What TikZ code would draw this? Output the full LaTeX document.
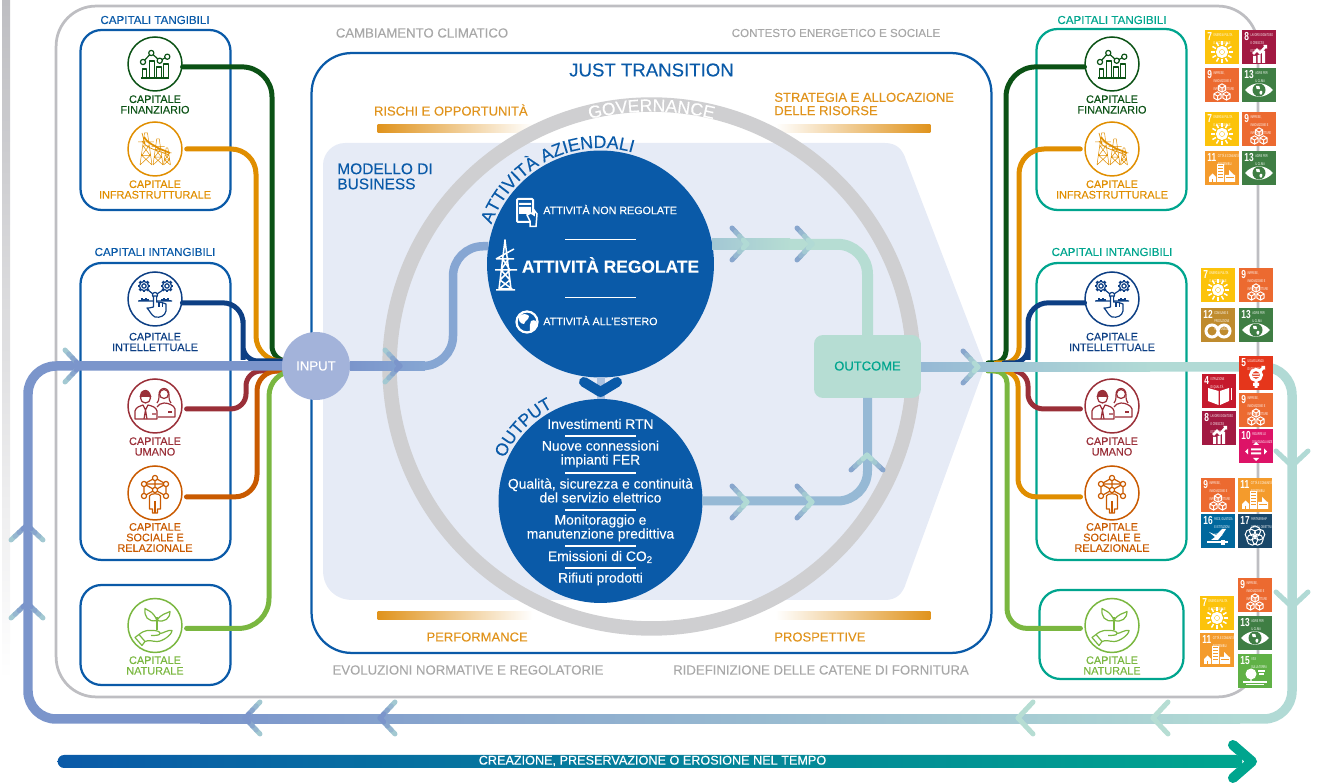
\documentclass[tikz,border=0pt]{standalone}
\usepackage{fontspec}
\setmainfont{Liberation Sans}[FakeBold=0.18]
\newfontfamily\sdgfont{Liberation Sans}
\usetikzlibrary{calc,decorations.text}
\definecolor{capblue}{HTML}{0A5AA8}
\definecolor{capteal}{HTML}{00A58E}
\definecolor{capgreen}{HTML}{0B5215}
\definecolor{capamber}{HTML}{E08E00}
\definecolor{capnavy}{HTML}{0D3F84}
\definecolor{capred}{HTML}{9A2F38}
\definecolor{caprust}{HTML}{C95A00}
\definecolor{caplime}{HTML}{7AB740}
\definecolor{framegray}{HTML}{BEBEC2}
\definecolor{ringgray}{HTML}{CFCFD1}
\definecolor{textgray}{HTML}{A8A8A8}
\definecolor{modelbg}{HTML}{E6EBF6}
\definecolor{pipeblue}{HTML}{7B95CB}
\definecolor{pipemid}{HTML}{86A6D3}
\definecolor{pipesky}{HTML}{96B9D5}
\definecolor{pipeaqua}{HTML}{B1DAD5}
\definecolor{pipemint}{HTML}{B6DDD3}
\definecolor{inputfill}{HTML}{A3B3DA}
\definecolor{labelamber}{HTML}{E0931C}

% SDG tiles: number, colour, caption, icon
\newcommand{\sdgdef}[4]{\definecolor{sdg#1}{HTML}{#2}%
  \expandafter\def\csname sdgtext#1\endcsname{#3}%
  \expandafter\def\csname sdgicon#1\endcsname{#4}}
\newcommand{\sdgcube}[2]{\begin{scope}[shift={(#1,#2)}, scale=.82]
  \draw[white, line width=.02cm, line join=round] (0,5)--(4.5,2.5)--(4.5,-2.5)--(0,-5)--(-4.5,-2.5)--(-4.5,2.5)--cycle
    (-4.5,2.5)--(0,0)--(4.5,2.5) (0,0)--(0,-5);
\end{scope}}
\sdgdef{4}{C5192D}{ISTRUZIONE\\DI QUALIT\`A}{
  \fill[white] (16.5,-17)--(16.5,-31)--(6,-27)--(6,-14)--cycle (18,-17)--(18,-31)--(27,-27)--(27,-14)--cycle;
  \fill[white] (28.5,-14) rectangle (30,-26);}
\sdgdef{5}{E5361B}{UGUAGLIANZA\\DI GENERE}{
  \draw[white, line width=.06cm] (17,-19) circle[radius=5.5] (21,-15)--(25,-11) (17,-25)--(17,-32) (14,-28.5)--(20,-28.5);
  \fill[white] (22,-10)--(26,-10)--(26,-14)--cycle (14,-17.5) rectangle (20,-18.7) (14,-20) rectangle (20,-21.2);}
\sdgdef{7}{FCC30B}{ENERGIA PULITA\\E ACCESSIBILE}{
  \draw[white, line width=.06cm] (17,-22) circle[radius=4.5];
  \fill[white] (17,-22) circle[radius=2.2];
  \foreach \a in {0,30,...,330} {\draw[white, line width=.03cm] ($(17,-22)+(\a:7)$) -- ($(17,-22)+(\a:11)$);}}
\sdgdef{8}{A21942}{LAVORO DIGNITOSO\\E CRESCITA\\ECONOMICA}{
  \fill[white] (11,-33) rectangle (14,-26) (15.5,-33) rectangle (18.5,-25) (20,-33) rectangle (23,-21);
  \draw[white, line width=.05cm] (11,-24)--(15,-20)--(18,-23)--(24,-16);
  \fill[white] (21,-15)--(25,-15)--(25,-19)--cycle;}
\sdgdef{9}{EC6A30}{IMPRESE,\\INNOVAZIONE E\\INFRASTRUTTURE}{
  \sdgcube{17}{-20}\sdgcube{12.5}{-28}\sdgcube{21.5}{-28}}
\sdgdef{10}{DD1367}{RIDURRE LE\\DISUGUAGLIANZE}{
  \fill[white] (12,-19.5) rectangle (22,-21.5) (12,-23.5) rectangle (22,-25.5)
    (14,-16)--(20,-16)--(17,-13)--cycle (14,-29)--(20,-29)--(17,-32)--cycle
    (9,-19.5)--(9,-25.5)--(6,-22.5)--cycle (25,-19.5)--(25,-25.5)--(28,-22.5)--cycle;}
\sdgdef{11}{F49B2C}{CITT\`A E COMUNIT\`A\\SOSTENIBILI}{
  \fill[white] (12,-31) rectangle (19,-13) (20,-31) rectangle (30,-24) (24,-24)--(24,-19)--(29,-24)--cycle
    (4,-31) rectangle (11,-26) (4,-26)--(7.5,-22.5)--(11,-26)--cycle;
  \foreach \y in {-15,-18,-21,-24,-27} {\draw[sdg11, line width=.02cm] (13,\y)--(18,\y);}
  \draw[sdg11, line width=.02cm] (21,-27)--(29,-27) (7.5,-28)--(7.5,-31);}
\sdgdef{12}{BF8B2E}{CONSUMO E\\PRODUZIONE\\RESPONSABILI}{
  \draw[white, line width=.06cm] (11,-23) circle[radius=6] (23,-23) circle[radius=6];}
\sdgdef{13}{3F7E44}{AGIRE PER\\IL CLIMA}{
  \fill[white] (3,-22) .. controls (11,-13) and (23,-13) .. (31,-22) .. controls (23,-31) and (11,-31) .. cycle;
  \fill[sdg13] (17,-22) circle[radius=6.5];
  \fill[white] (14,-18) .. controls (17,-17) and (19,-19) .. (18,-21) .. controls (15,-22) and (13,-20) .. cycle
    (18,-23) .. controls (21,-22) and (21,-25) .. (19,-27) .. controls (17,-26) and (17,-24) .. cycle;}
\sdgdef{15}{60B146}{VITA\\SULLA TERRA}{
  \fill[white] (13,-20) circle[radius=5.5] (12.3,-24) rectangle (13.7,-28);
  \draw[white, line width=.03cm] (5,-28)--(29,-28) (8,-30.5)--(26,-30.5) (20,-17)--(27,-17) (21,-20)--(26,-20);}
\sdgdef{16}{00689D}{PACE, GIUSTIZIA\\E ISTITUZIONI\\SOLIDE}{
  \fill[white] (8,-18)--(15,-21)--(21,-15)--(25,-15)--(21,-21)--(17,-26)--(10,-26)--(14,-23)--cycle;
  \draw[white, line width=.05cm] (6,-28)--(27,-28);
  \fill[white] (20,-26) rectangle (24,-31);}
\sdgdef{17}{19486A}{PARTNERSHIP\\PER GLI OBIETTIVI}{
  \foreach \a in {90,162,234,306,18} {\draw[white, line width=.02cm] ($(17,-22)+(\a:4.5)$) circle[radius=5.5];}}

\newcommand{\sdgtile}[3]{%
  \node[sdgbox, fill=sdg#1] (tile#1x#2) at (#2,-#3) {};
  \begin{scope}[shift={(#2,-#3)}]
    \node[sdgnum] (num#1x#2) at (2,-2) {\scalebox{.72}[1]{#1}};
    \node[sdgcap] (cap#1x#2) at (num#1x#2.north east) {\scalebox{.56}[1]{\shortstack[l]{\csname sdgtext#1\endcsname}}};
    \csname sdgicon#1\endcsname
  \end{scope}}

% two-armed chevron: x, y, angle, tip colour, tail colour
\newcommand{\chev}[5]{\begin{scope}[shift={(#1,-#2)},rotate=#3]
  \foreach \s in {75,50,25,0} {
    \draw[chevline, color=#5!\s!#4] ({-.15*(\s+25)},{.16*(\s+25)}) -- ({-.15*\s},{.16*\s});
    \draw[chevline, color=#5!\s!#4] ({-.15*(\s+25)},{-.16*(\s+25)}) -- ({-.15*\s},{-.16*\s});
  }
\end{scope}}

% capital icons
\newcommand{\iconfin}{
  \draw[ico] (-14,-14)--(14,-14);
  \foreach \bx/\bt in {-10.5/-5,-3/3,4/-3,11/0} {\draw[ico] (\bx-2.3,-14) rectangle (\bx+2.3,\bt);}
  \draw[ico] (-12,2)--(-3.7,11)--(4.7,3.3)--(12.3,7.3);
  \foreach \px/\py in {-12/2,-3.7/11,4.7/3.3,12.3/7.3} {\draw[ico, fill=white] (\px,\py) circle[radius=2.6];}}
\newcommand{\tower}[4]{% x, base, height, half width
  \draw[line width=.01cm, line join=round] (#1-#4,#2)--(#1-.25*#4,#2+#3)--(#1+.25*#4,#2+#3)--(#1+#4,#2)
    (#1-#4,#2)--(#1+.7*#4,#2+.3*#3)--(#1-.7*#4,#2+.3*#3)--(#1+#4,#2)
    (#1+.7*#4,#2+.3*#3)--(#1-.5*#4,#2+.6*#3)--(#1+.5*#4,#2+.6*#3)--(#1-.7*#4,#2+.3*#3)
    (#1-1.3*#4,#2+.72*#3)--(#1+1.3*#4,#2+.72*#3);}
\newcommand{\iconpylon}{
  \tower{-9}{-16}{32}{6}\tower{3}{-16}{26}{5}\tower{12}{-16}{17}{3.5}
  \draw[line width=.035cm] (-11,12) .. controls (-6,4) and (0,4) .. (3,1) .. controls (7,-1) and (11,-2) .. (15,-4);
  \draw[line width=.014cm] (-13,16)--(-10,5) (-13,8) .. controls (-8,0) and (2,-1) .. (14,-6);}
\newcommand{\icongear}[2]{\begin{scope}[shift={(#1,#2)}]
  \draw[ico] (0,0) circle[radius=2.2];
  \draw[ico] (0,0) circle[radius=4.6];
  \foreach \a in {0,45,...,315} {\draw[line width=.05cm] (\a:4.6) -- (\a:6.2);}
\end{scope}}
\newcommand{\iconhand}{
  \icongear{-11}{13}\icongear{12}{13}
  \draw[ico] (-7,9)--(-2,5) (8,9)--(2,5) (-17,-2)--(17,-2);
  \foreach \tx/\th in {-15/1,-13/2.5,-11/1.5,-9/3,-7/1.5,7/1.5,9/3,11/2,13/2.5,15/1} {\draw[ico] (\tx,-2)--(\tx,-2+\th);}
  \draw[ico, fill=white] (0,4) circle[radius=2.6];
  \draw[ico, fill=white] (-1.6,3) -- (-1.6,-8) .. controls (-4,-9) and (-7,-9) .. (-8,-9) .. controls (-5,-12) and (-4,-16) .. (0,-18)
    .. controls (5,-19) and (10,-17) .. (11,-12) -- (11,-5) .. controls (9,-4) and (6,-3) .. (1.6,-3) -- (1.6,3) -- cycle;
  \draw[ico] (4,-3.5)--(4,-8) (7.5,-4)--(7.5,-8);}
\newcommand{\iconpeople}{
  \draw[ico] (-9.5,8) circle[radius=5];
  \fill (-15.5,9) -- (-14,14) .. controls (-11,17) and (-7,17) .. (-5,13) -- (-3.5,9) -- cycle;
  \draw[ico] (-20,-13)--(-20,-5) .. controls (-19,-1) and (-15,0) .. (-12,1) -- (-9.5,-4) -- (-7,1) .. controls (-3,0) and (1,-1) .. (2,-5) -- (2,-13)--cycle;
  \draw[ico] (-9.5,-4)--(-11,-13) (-9.5,-4)--(-8,-13) (-3,-8)--(1,-8);
  \draw[ico] (9,12) circle[radius=4.5];
  \draw[ico] (4,10) .. controls (3,20) and (15,20) .. (14,10) .. controls (14,6) and (15,4) .. (16,3) (4,10) .. controls (4,6) and (3,4) .. (2,3);
  \draw[ico] (2,-1) .. controls (3,1) and (6,3) .. (9,3) .. controls (13,3) and (19,1) .. (20,-3) -- (20,-11) -- (3,-11);
  \draw[ico] (13,-6)--(17,-6);}
\newcommand{\iconnet}{
  \draw[ico] (0,15)--(11,9)--(11,-3) (0,15)--(-11,9)--(-11,-3) (0,15)--(0,3) (-11,9)--(11,9) (-11,-3)--(0,3)--(11,-3) (-11,9)--(0,3)--(11,9);
  \foreach \px/\py in {0/15,11/9,11/-3,-11/9,-11/-3,0/3} {\draw[ico, fill=white] (\px,\py) circle[radius=2.6];}
  \draw[ico, fill=white] (-5.5,-16) -- (-5.5,-3) .. controls (-5,0) and (5,0) .. (5.5,-3) -- (5.5,-16) -- (2.5,-16) -- (2.5,-20) -- (-2.5,-20) -- (-2.5,-16) -- cycle;
  \draw[ico] (0,-8)--(0,-20);}
\newcommand{\iconplant}{
  \draw[ico] (2,-5)--(2,8);
  \draw[ico] (2,5) .. controls (-2,15) and (-8,15) .. (-10,17) .. controls (-11,9) and (-7,3) .. (2,5);
  \draw[ico] (2,5) .. controls (6,12) and (12,12) .. (15,14) .. controls (15,7) and (10,3) .. (2,5);
  \draw[ico] (-16,-9) .. controls (-10,-4) and (-6,-5) .. (-2,-5) .. controls (2,-5) and (5,-6) .. (5,-8) .. controls (5,-10) and (0,-10) .. (-4,-10)
    (5,-8) .. controls (8,-8) and (13,-4) .. (17,-5) .. controls (17,-9) and (8,-16) .. (2,-16) .. controls (-3,-16) and (-6,-14) .. (-10,-16);
  \draw[ico] (-16,-9)--(-10,-16)--(-13,-20)--(-20,-12)--cycle;}

\begin{document}
\begin{tikzpicture}[x=.02cm, y=.02cm,
    ico/.style={line width=.024cm, line join=round},
    frame/.style={draw=framegray, line width=.055cm, rounded corners=.8cm, minimum width=24.04cm, minimum height=13.82cm, inner sep=0},
    capbox/.style={draw=#1, line width=.045cm, rounded corners=.42cm, minimum width=3cm, inner sep=0},
    capcirc/.style={circle, draw=#1, line width=.03cm, fill=white, minimum size=1.08cm, inner sep=0},
    caplabel/.style={font=\fontsize{6.2}{6}\selectfont, align=center, inner sep=0},
    caphead/.style={font=\fontsize{6.6}{7}\selectfont, inner sep=0},
    contextlabel/.style={font=\fontsize{7.5}{8}\selectfont, text=textgray, inner sep=0},
    risklabel/.style={font=\fontsize{7.4}{7.6}\selectfont, text=labelamber, align=left, inner sep=0},
    fadebar/.style={minimum width=3.1cm, minimum height=.16cm, inner sep=0},
    pipe/.style={line width=.1cm, line cap=round},
    mainpipe/.style={line width=.19cm, rounded corners=.56cm},
    chevline/.style={line width=.1cm, line cap=round},
    whitetext/.style={text=white, inner sep=0, font=\fontsize{7.9}{7.9}\selectfont},
    sdgbox/.style={anchor=north west, minimum size=.68cm, inner sep=0, outer sep=0},
    sdgnum/.style={anchor=north west, inner sep=0, text=white, font=\sdgfont\fontsize{6.6}{6.6}\selectfont\bfseries},
    sdgcap/.style={anchor=north west, inner sep=.02cm, text=white, font=\sdgfont\fontsize{2.3}{2.6}\selectfont}
]
\useasboundingbox (0,0) rectangle (1320,-783);

% === LAYOUT, px of the reference, y downwards ===
% Frame: x=56..1258, y=6..697
% Just transition box: x=312..991, y=53..653
% Main axis: y=366

% Left gray strip
\shade[top color=framegray, bottom color=white] (2,0) rectangle (10,-680);

% Outer frame and context labels
\node[frame] (frame) at (657,-351.5) {};
\node[contextlabel] (ctxclima) at (422,-33) {CAMBIAMENTO CLIMATICO};
\node[contextlabel, font=\fontsize{6.6}{8}\selectfont] (ctxenergia) at (836,-33) {CONTESTO ENERGETICO E SOCIALE};
\node[contextlabel] (ctxnorme) at (468,-670) {EVOLUZIONI NORMATIVE E REGOLATORIE};
\node[contextlabel] (ctxfiliera) at (821,-670) {RIDEFINIZIONE DELLE CATENE DI FORNITURA};

% Capital boxes
\node[capbox=capblue, minimum height=3.6cm] (tanL) at (155.5,-120) {};
\node[capbox=capblue, minimum height=5.94cm] (intL) at (155.5,-411.5) {};
\node[capbox=capblue, minimum height=2cm] (natL) at (155.5,-635) {};
\node[capbox=capteal, minimum height=3.62cm] (tanR) at (1111.5,-119.5) {};
\node[capbox=capteal, minimum height=5.94cm] (intR) at (1111.5,-411.5) {};
\node[capbox=capteal, minimum width=2.88cm, minimum height=1.78cm] (natR) at (1111.5,-634.5) {};
\node[caphead, text=capblue] (headtanL) at (155,-20) {CAPITALI TANGIBILI};
\node[caphead, text=capblue] (headintL) at (155,-252) {CAPITALI INTANGIBILI};
\node[caphead, text=capteal] (headtanR) at (1112,-20) {CAPITALI TANGIBILI};
\node[caphead, text=capteal] (headintR) at (1112,-252) {CAPITALI INTANGIBILI};

% Just transition box
\node[draw=capblue, line width=.045cm, rounded corners=.8cm, minimum width=13.6cm, minimum height=12cm, inner sep=0] (just) at (651.5,-353) {};
\node[font=\fontsize{10.6}{11}\selectfont, text=capblue, inner sep=0] (justtitle) at (651.5,-70) {JUST TRANSITION};

% Business model shape
\fill[modelbg] (345,-143) -- (885,-143) .. controls (897,-143) and (903,-150) .. (906,-160) -- (985,-366) -- (906,-583) .. controls (903,-593) and (897,-600) .. (885,-600)
  -- (353,-600) .. controls (335,-600) and (323,-588) .. (323,-570) -- (323,-165) .. controls (323,-153) and (333,-143) .. (345,-143) -- cycle;
\node[font=\fontsize{8.8}{8.6}\selectfont, text=capblue, align=left, anchor=north west, inner sep=0] (model) at (337,-163) {MODELLO DI\\BUSINESS};

% Risk, strategy, performance, outlook
\node[risklabel, anchor=east] (rischi) at (528,-110) {RISCHI E OPPORTUNIT\`A};
\node[risklabel, anchor=west] (strategia) at (774,-104) {STRATEGIA E ALLOCAZIONE\\DELLE RISORSE};
\node[risklabel, anchor=east] (perf) at (528,-637) {PERFORMANCE};
\node[risklabel, anchor=west] (prosp) at (774,-637) {PROSPETTIVE};
\foreach \barname/\x/\y/\lc/\rc in {bara/455/-129/labelamber/white, barb/853/-129/white/labelamber, barc/455/-616/labelamber/white, bard/853/-616/white/labelamber} {
    \node[fadebar, left color=\lc, right color=\rc] (\barname) at (\x,\y) {};
}

% Governance ring
\node[circle, draw=ringgray, line width=.29cm, minimum size=10.48cm, inner sep=0] (ring) at (651.5,-366.5) {};
\path[decorate, decoration={text along path, text align=center, text={|\fontsize{10}{10}\selectfont\color{white}|GOVERNANCE}}]
    ($(ring.center)+(104:255)$) arc[start angle=104, end angle=76, radius=255];

% Activity circles
\node[circle, fill=capblue, minimum size=4.54cm, inner sep=0, outer sep=0] (att) at (600.5,-264) {};
\node[circle, fill=capblue, minimum size=4.08cm, inner sep=0, outer sep=0] (out) at (600.5,-501) {};
\path[decorate, decoration={text along path, text align=center, text={|\fontsize{10.1}{10.1}\selectfont\color{capblue}|ATTIVIT{\`A} AZIENDALI}}]
    ($(att.center)+(160:116)$) arc[start angle=160, end angle=74, radius=116];
\path[decorate, decoration={text along path, text align=center, text={|\fontsize{9.9}{9.9}\selectfont\color{capblue}|OUTPUT}}]
    ($(out.center)+(156:105)$) arc[start angle=156, end angle=117, radius=105];

% Capitals on both sides
\foreach \side/\cx in {L/155, R/1112} {
  \foreach \name/\y/\col/\ic/\ly/\txt in {
      fin/64/capgreen/iconfin/104.5/{CAPITALE\\FINANZIARIO},
      infra/149/capamber/iconpylon/189.5/{CAPITALE\\INFRASTRUTTURALE},
      intel/299/capnavy/iconhand/342/{CAPITALE\\INTELLETTUALE},
      umano/406/capred/iconpeople/446.5/{CAPITALE\\UMANO},
      soc/493/caprust/iconnet/537.5/{CAPITALE\\SOCIALE E\\RELAZIONALE},
      nat/625.5/caplime/iconplant/665.5/{CAPITALE\\NATURALE}} {
    \node[capcirc=\col] (\name\side) at (\cx,-\y) {};
    \begin{scope}[shift={(\cx,-\y)}, color=\col]
      \csname\ic\endcsname
    \end{scope}
    \node[caplabel, text=\col] (lab\name\side) at (\cx,-\ly) {\txt};
  }
}

% Connectors, left side
\coordinate (inup) at (300,-361);
\coordinate (indown) at (300,-371);
\draw[pipe, capgreen, rounded corners=.6cm] (finL.-6) -| (272,-200) [rounded corners=.3cm] |- (inup);
\draw[pipe, capamber, rounded corners=.5cm] ([xshift=.08cm]infraL.east) -| (256,-250) |- (inup);
\draw[pipe, capnavy, rounded corners=.4cm] (intelL.-8) -| (243,-340) [rounded corners=.3cm] |- (inup);
\draw[pipe, capred, rounded corners=.3cm] ([xshift=.08cm]umanoL.-6) -| (246,-371) -- (indown);
\draw[pipe, caprust, rounded corners=.44cm] ([xshift=.08cm]socL.-8) -| (257,-450) [rounded corners=.4cm] |- (indown);
\draw[pipe, caplime, rounded corners=.6cm] ([xshift=.08cm]natL.-6) -| (269,-500) [rounded corners=.5cm] |- (indown);

% Connectors, right side
\coordinate (outgreen) at (988,-363);
\coordinate (outamber) at (996,-363);
\coordinate (outnavy) at (1004,-363);
\coordinate (outred) at (1002,-371);
\coordinate (outsoc) at (994,-371);
\coordinate (outlime) at (988,-371);
\draw[pipe, capgreen, rounded corners=.6cm] (finR.186) -| (1006,-200) [rounded corners=.24cm] |- (outgreen);
\draw[pipe, capamber, rounded corners=.5cm] ([xshift=-.08cm]infraR.west) -| (1019,-250) [rounded corners=.3cm] |- (outamber);
\draw[pipe, capnavy, rounded corners=.4cm] (intelR.188) -| (1028,-340) [rounded corners=.3cm] |- (outnavy);
\draw[pipe, capred, rounded corners=.3cm] ([xshift=-.08cm]umanoR.186) -| (1028,-371) -- (outred);
\draw[pipe, capamber, rounded corners=.36cm] ([xshift=-.08cm]socR.188) -| (1018,-450) [rounded corners=.3cm] |- (outsoc);
\draw[pipe, caplime, rounded corners=.4cm] ([xshift=-.08cm]natR.186) -| (1007,-500) [rounded corners=.24cm] |- (outlime);

% Loop around the whole picture
\coordinate (axisout) at (921,-367);
\coordinate (axisin) at (300,-366);
\draw[mainpipe, color=pipeaqua] (axisout) -- (1292,-367) -- (1292,-719) -- (1240,-719);
\shade[left color=pipeblue, right color=pipeaqua] (200,-714.2) rectangle (1240,-723.8);
\draw[mainpipe, color=pipeblue] (200,-719) -- (28,-719) -- (28,-366) -- (axisin);
\shade[left color=pipesky, right color=pipeaqua] (921,-362.2) rectangle (1150,-371.8);

% Input and outcome
\node[circle, fill=inputfill, text=white, font=\fontsize{7.5}{8}\selectfont, minimum size=1.36cm, inner sep=0, outer sep=0] (input) at (316,-366) {INPUT};
\node[rounded corners=.18cm, fill=pipemint, minimum width=2.14cm, minimum height=1.26cm, inner sep=0, outer sep=0] (outcome) at (867.5,-366.5) {};

% Inner pipes
\draw[line width=.16cm, color=pipemid!70] (att.south) -- (out.north);
\draw[line width=.17cm, color=pipemid, rounded corners=.6cm] (input.east) -- (453,-366) |- (att.171);
\shade[left color=pipeblue, right color=pipemid] (350,-361.7) rectangle (425,-370.3);
\draw[line width=.22cm, color=pipemint, rounded corners=.6cm] (att.10) -| (outcome.north);
\shade[left color=pipesky!60!pipemint, right color=pipemint] (712,-238.5) rectangle (790,-249.5);
\draw[line width=.18cm, color=pipesky, rounded corners=.6cm] (out.east) -| (outcome.south);
\node[text=capteal, font=\fontsize{7.4}{8}\selectfont, inner sep=0] (outcometext) at (867.5,-366) {OUTCOME};

% Chevrons on the loop
\chev{80}{366}{0}{pipeblue}{pipeaqua}
\chev{400}{366}{0}{pipeblue}{pipeaqua}
\chev{27}{525}{90}{pipeblue}{pipeaqua}
\chev{27}{603}{90}{pipeblue}{pipeaqua}
\chev{245}{718}{180}{pipeblue}{pipeaqua}
\chev{380}{718}{180}{pipeblue}{pipeaqua}
\chev{1018}{718}{180}{pipemint}{pipemint}
\chev{1153}{718}{180}{pipemint}{pipemint}
\chev{1292}{466}{-90}{pipeaqua}{pipeaqua}
\chev{1292}{607}{-90}{pipeaqua}{pipeaqua}

% Chevrons on the inner pipes
\chev{747}{244}{0}{pipeaqua}{pipeblue}
\chev{812}{244}{0}{pipeaqua}{pipeblue}
\chev{747}{502}{0}{pipeaqua}{pipeblue}
\chev{812}{502}{0}{pipeaqua}{pipeblue}
\chev{867}{455}{90}{pipeaqua}{pipeblue}
\chev{978}{367}{0}{pipeaqua}{pipeblue}
\draw[line width=.2cm, capblue, line cap=round, line join=round] (584,-382) -- (600.5,-392) -- (617,-382);

% Text in the activity circle
\node[text=white, inner sep=0, font=\fontsize{6.1}{6.1}\selectfont, anchor=west] (nonreg) at (543,-209.5) {ATTIVIT\`A NON REGOLATE};
\node[text=white, inner sep=0, font=\fontsize{9.9}{10}\selectfont\bfseries] (reg) at (610.5,-265) {ATTIVIT\`A REGOLATE};
\node[text=white, inner sep=0, font=\fontsize{6.1}{6.1}\selectfont, anchor=west] (estero) at (543,-320.5) {ATTIVIT\`A ALL'ESTERO};
\draw[white, line width=.02cm] (565,-240) -- (636,-240) (565,-298) -- (636,-298);
% tablet
\draw[white, line width=.04cm, fill=capblue, rounded corners=.02cm] (517,-199) rectangle (533,-222);
\fill[white] (519,-203) rectangle (531,-205) (519,-207) rectangle (531,-214);
\draw[white, line width=.03cm, fill=capblue] (530,-226.5) -- (530,-221) -- (527,-215) -- (531,-213) -- (534,-215) -- (534,-210) -- (537,-214) -- (536,-226.5) -- cycle;
% pylon
\draw[white, line width=.03cm, line join=round] (496,-290)--(515,-290) (499,-289)--(505,-240)--(511,-289) (496,-259)--(514,-249) (496,-259)--(514,-259)
  (495,-270)--(517,-270) (502,-258)--(510,-270)--(500,-280)--(512,-289)--(499,-289)--(510,-280)--(501,-270)--(509,-258);
% globe
\draw[white, line width=.045cm] (527,-322) circle[radius=10.5];
\fill[white] (519,-316) .. controls (523,-313) and (527,-314) .. (529,-316) .. controls (529,-320) and (525,-320) .. (524,-324) .. controls (520,-324) and (518,-320) .. cycle
  (531,-321) .. controls (535,-319) and (537,-321) .. (537,-325) .. controls (535,-329) and (532,-331) .. (530,-331) .. controls (530,-327) and (529,-324) .. cycle;

% Text in the output circle
\node[whitetext] (outa) at (600.5,-424) {Investimenti RTN};
\node[whitetext, align=center, font=\fontsize{7.9}{7.9}\selectfont] (outb) at (600.5,-454) {Nuove connessioni\\impianti FER};
\node[whitetext, align=center, font=\fontsize{7.9}{7.9}\selectfont] (outc) at (600.5,-490.5) {Qualit\`a, sicurezza e continuit\`a\\del servizio elettrico};
\node[whitetext, align=center, font=\fontsize{7.9}{7.9}\selectfont] (outd) at (600.5,-528) {Monitoraggio e\\manutenzione predittiva};
\node[whitetext] (oute) at (600.5,-557) {Emissioni di CO\textsubscript{2}};
\node[whitetext] (outf) at (600.5,-579) {Rifiuti prodotti};
\foreach \y in {436,473,510,546,568} {
    \draw[white, line width=.03cm] (565,-\y) -- (636,-\y);
}

% SDG tiles
\foreach \n/\x/\y in {7/1205/30, 8/1242/30, 9/1205/68, 13/1242/68,
    7/1205/112, 9/1242/112, 11/1205/151, 13/1242/151,
    7/1201/268, 9/1239/268, 12/1201/308, 13/1239/308,
    5/1239/356, 4/1202/374, 9/1239/393, 8/1202/411, 10/1239/429,
    9/1201/478, 11/1238/478, 16/1201/514, 17/1238/514,
    9/1238/578, 7/1200/596, 13/1238/616, 11/1200/633, 15/1238/654} {
    \sdgtile{\n}{\x}{\y}
}

% Time arrow
\node[rounded corners=.13cm, left color=capblue, right color=capteal, minimum width=23.7cm, minimum height=.26cm, inner sep=0] (timebar) at (650,-761.5) {};
\coordinate (timetip) at (1252,-761.5);
\draw[line width=.2cm, capteal, line cap=round, line join=round] (1233,-745) -- (timetip) -- (1233,-778);
\node[text=white, inner sep=0, font=\fontsize{7.2}{7.2}\selectfont] (timetext) at (652.5,-761) {CREAZIONE, PRESERVAZIONE O EROSIONE NEL TEMPO};

\end{tikzpicture}
\end{document}
